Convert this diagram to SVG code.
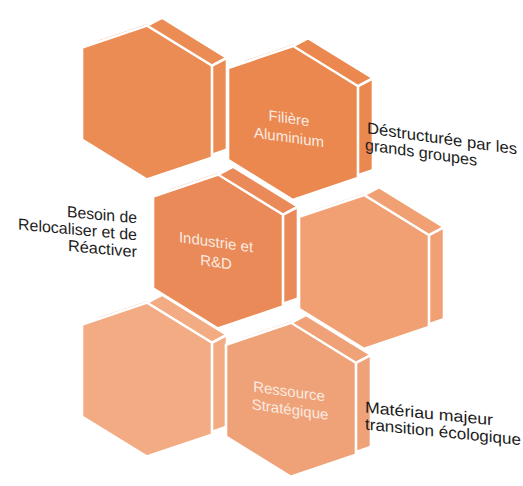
<svg xmlns="http://www.w3.org/2000/svg" xmlns:xlink="http://www.w3.org/1999/xlink" width="523" height="486" viewBox="0 0 523 486">
<defs>
<polygon id="hx" points="0,-77 65,-46 65,46 0,77 -65,46 -65,-46"/>
<style>
.face{stroke:#fff;stroke-width:2.6;stroke-linejoin:miter}
.edge{stroke:#fff;stroke-width:2.6;fill:none}
.a{fill:#EB8C55}.b{fill:#EA884F}.c{fill:#E98A58}.d{fill:#F0A073}.e{fill:#F3AB83}.f{fill:#EFA278}
.lbl{font-family:"Liberation Sans",Arial,sans-serif;font-size:15px;fill:#FBEAE0;text-anchor:middle}
.side{font-family:"Liberation Sans",Arial,sans-serif;font-size:16px;fill:#1c1c1c}
</style>
</defs>
<rect width="523" height="486" fill="#fff"/>
<g transform="matrix(1,0.14,0,1,0,0)">
<g id="hexA" transform="translate(147,82)">
<use xlink:href="#hx" class="face a" transform="translate(15,-10)"/>
<path class="edge" d="M0,-77l15,-10M65,-46l15,-10M65,46l15,-10"/>
<use xlink:href="#hx" class="face a"/>
</g>
<g id="hexB" transform="translate(293,82)">
<use xlink:href="#hx" class="face b" transform="translate(15,-10)"/>
<path class="edge" d="M0,-77l15,-10M65,-46l15,-10M65,46l15,-10"/>
<use xlink:href="#hx" class="face b"/>
<text class="lbl" x="-4" y="1">Filière</text>
<text class="lbl" x="-4" y="20">Aluminium</text>
</g>
<g id="hexC" transform="translate(218,221)">
<use xlink:href="#hx" class="face c" transform="translate(15,-10)"/>
<path class="edge" d="M0,-77l15,-10M65,-46l15,-10M65,46l15,-10"/>
<use xlink:href="#hx" class="face c"/>
<text class="lbl" x="-2" y="-4">Industrie et</text>
<text class="lbl" x="-2" y="16">R&amp;D</text>
</g>
<g id="hexD" transform="translate(364,221)">
<use xlink:href="#hx" class="face d" transform="translate(15,-10)"/>
<path class="edge" d="M0,-77l15,-10M65,-46l15,-10M65,46l15,-10"/>
<use xlink:href="#hx" class="face d"/>
</g>
<g id="hexE" transform="translate(147,359)">
<use xlink:href="#hx" class="face e" transform="translate(15,-10)"/>
<path class="edge" d="M0,-77l15,-10M65,-46l15,-10M65,46l15,-10"/>
<use xlink:href="#hx" class="face e"/>
</g>
<g id="hexF" transform="translate(291,359)">
<use xlink:href="#hx" class="face f" transform="translate(15,-10)"/>
<path class="edge" d="M0,-77l15,-10M65,-46l15,-10M65,46l15,-10"/>
<use xlink:href="#hx" class="face f"/>
<text class="lbl" x="-2" y="-3">Ressource</text>
<text class="lbl" x="-1" y="15">Stratégique</text>
</g>
<g id="noteTop">
<text class="side" x="367" y="82" textLength="150" lengthAdjust="spacingAndGlyphs">Déstructurée par les</text>
<text class="side" x="365" y="99" textLength="112" lengthAdjust="spacingAndGlyphs">grands groupes</text>
</g>
</g>
<g id="noteLeft" transform="matrix(1,0.09,0,1,0,0)">
<text class="side" x="137" y="211" text-anchor="end" textLength="70" lengthAdjust="spacingAndGlyphs">Besoin de</text>
<text class="side" x="137" y="228" text-anchor="end" textLength="119" lengthAdjust="spacingAndGlyphs">Relocaliser et de</text>
<text class="side" x="137" y="245" text-anchor="end" textLength="69" lengthAdjust="spacingAndGlyphs">Réactiver</text>
</g>
<g id="noteBottom" transform="matrix(1,0.1,0,1,0,0)">
<text class="side" x="365" y="376" textLength="128" lengthAdjust="spacingAndGlyphs">Matériau majeur</text>
<text class="side" x="365" y="393" textLength="156" lengthAdjust="spacingAndGlyphs">transition écologique</text>
</g>
</svg>
